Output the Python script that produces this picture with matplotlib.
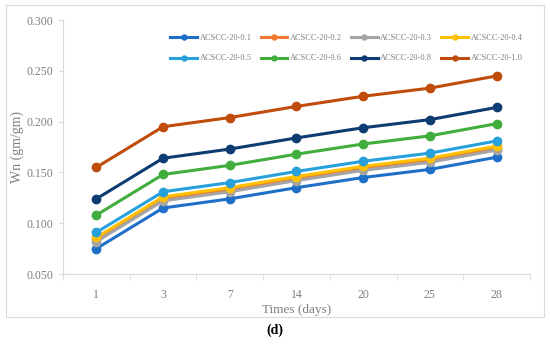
import matplotlib.pyplot as plt
from matplotlib.patches import Rectangle
import numpy as np

plt.rcParams['font.family'] = ['Liberation Serif', 'DejaVu Serif']

days = ['1', '3', '7', '14', '20', '25', '28']

labels = ['ACSCC-20-0.1', 'ACSCC-20-0.2', 'ACSCC-20-0.3', 'ACSCC-20-0.4',
          'ACSCC-20-0.5', 'ACSCC-20-0.6', 'ACSCC-20-0.8', 'ACSCC-20-1.0']

wn_01 = [0.075, 0.115, 0.124, 0.135, 0.145, 0.153, 0.165]
wn_02 = [0.084, 0.124, 0.133, 0.144, 0.154, 0.162, 0.174]
wn_03 = [0.082, 0.122, 0.131, 0.142, 0.152, 0.160, 0.172]
wn_04 = [0.086, 0.126, 0.135, 0.146, 0.156, 0.164, 0.176]
wn_05 = [0.091, 0.131, 0.140, 0.151, 0.161, 0.169, 0.181]
wn_06 = [0.108, 0.148, 0.157, 0.168, 0.178, 0.186, 0.198]
wn_08 = [0.124, 0.164, 0.173, 0.184, 0.194, 0.202, 0.214]
wn_10 = [0.155, 0.195, 0.204, 0.215, 0.225, 0.233, 0.245]

series = [wn_01, wn_02, wn_03, wn_04, wn_05, wn_06, wn_08, wn_10]
colors = ['#1f6fc8', '#f07a30', '#a5a5a5', '#ffc000',
          '#27a0dc', '#40ad3c', '#0c3c72', '#c04c0c']

fig = plt.figure(figsize=(5.5, 3.46), dpi=100)
ax = fig.add_axes([0.1145, 0.208, 0.849, 0.734])

# light frame around the whole chart
fig.patches.append(Rectangle((6/550, 1 - 317/346), 538/550, 312/346,
                             transform=fig.transFigure, fill=False,
                             edgecolor='#d9d9d9', linewidth=0.8))

x = np.arange(len(days))
handles = []
for vals, lab, c in zip(series, labels, colors):
    h, = ax.plot(x, vals, color=c, linewidth=2.2, marker='o', markersize=6,
                 label=lab)
    handles.append(h)

ax.set_xlim(-0.5, len(days) - 0.5)
ax.set_ylim(0.05, 0.30)
ax.set_yticks(np.arange(0.05, 0.301, 0.05))
ax.set_yticklabels(['%.3f' % v for v in np.arange(0.05, 0.301, 0.05)])
ax.set_xticks(x)
ax.set_xticklabels(days)
ax.set_xticks(np.arange(-0.5, len(days)), minor=True)

txt = '#7f7f7f'
ax.tick_params(axis='x', which='major', length=0, pad=11, labelsize=8.5, colors=txt)
ax.tick_params(axis='x', which='minor', length=4, color='#d9d9d9', direction='out')
ax.tick_params(axis='y', length=3, color='#d9d9d9', labelsize=8.5, colors=txt, pad=4)

for s in ['top', 'right']:
    ax.spines[s].set_visible(False)
for s in ['left', 'bottom']:
    ax.spines[s].set_color('#d9d9d9')

ax.set_xlabel('Times (days)', fontsize=9.5, color=txt, labelpad=2)
ax.set_ylabel('Wn (gm/gm)', fontsize=10, color=txt, labelpad=2)

order = [0, 4, 1, 5, 2, 6, 3, 7]
ax.legend([handles[i] for i in order], [labels[i] for i in order],
          ncol=4, frameon=False, fontsize=6, loc='upper right',
          bbox_to_anchor=(1.0, 0.975), handlelength=3.2, handletextpad=0.3,
          columnspacing=1.1, labelspacing=1.5, markerscale=0.6,
          labelcolor=txt)

fig.text(0.5, 1 - 330/346, '(d)', ha='center', va='center', fontsize=10,
         fontweight='bold')

fig.savefig('out.png', dpi=100)
